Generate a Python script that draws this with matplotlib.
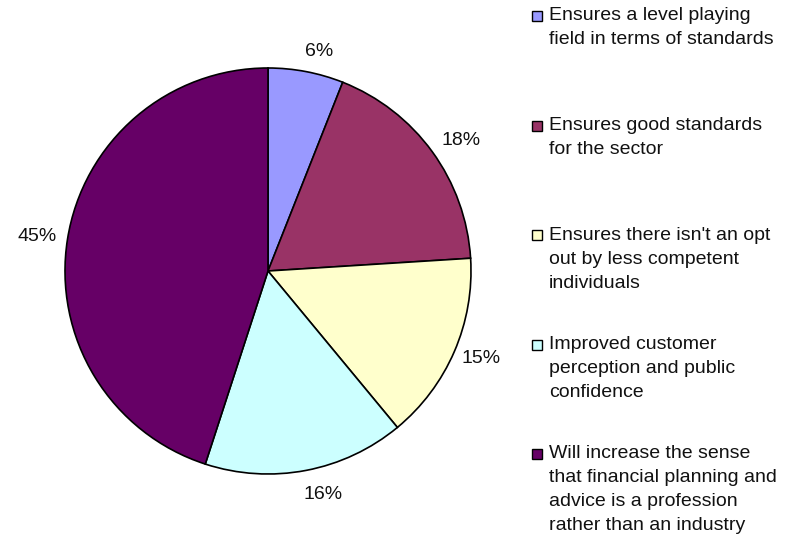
import matplotlib
matplotlib.use("Agg")
import numpy as np
import matplotlib.pyplot as plt
from matplotlib.patches import Rectangle

plt.rcParams['font.family'] = ['Liberation Sans', 'DejaVu Sans']

categories = [
    ["Ensures a level playing", "field in terms of standards"],
    ["Ensures good standards", "for the sector"],
    ["Ensures there isn't an opt", "out by less competent", "individuals"],
    ["Improved customer", "perception and public", "confidence"],
    ["Will increase the sense", "that financial planning and", "advice is a profession", "rather than an industry"],
]
values = [6, 18, 15, 16, 45]
colors = ["#9999FF", "#993366", "#FFFFCC", "#CCFFFF", "#660066"]

# label placement tweaks (angle shift in degrees, distance in radii)
label_shift = [-2.2, -2.0, 1.0, 3.0, 0.6]
label_dist = [1.11, 1.15, 1.135, 1.135, 1.15]

W, H = 790, 537
fig = plt.figure(figsize=(W / 100, H / 100), dpi=100)

# pie axes: centre (268, 271) px, radius 203 px
cx, cy, r = 268, 271, 203
ax = fig.add_axes([(cx - r) / W, (H - cy - r) / H, 2 * r / W, 2 * r / H])
wedges, texts = ax.pie(
    values, colors=colors, startangle=90, counterclock=False,
    labels=[f"{v}%" for v in values], labeldistance=1.14,
    wedgeprops=dict(edgecolor="black", linewidth=1.2),
    textprops=dict(fontsize=14, color="#111111"),
    radius=1.0,
)
for w, t, dth, dist in zip(wedges, texts, label_shift, label_dist):
    mid = np.deg2rad((w.theta1 + w.theta2) / 2 + dth)
    t.set_position((dist * np.cos(mid), dist * np.sin(mid)))
    t.set_ha("center")
    t.set_va("center")
ax.set_xlim(-1, 1)
ax.set_ylim(-1, 1)
ax.set_aspect("equal")
ax.axis("off")

# legend drawn on the right
first_y = 16
step = 109.5
line_h = 24
box = 10
for i, (lines, col) in enumerate(zip(categories, colors)):
    y0 = first_y + i * step
    fig.patches.append(Rectangle((532 / W, (H - y0 - box / 2) / H), box / W, box / H,
                                 transform=fig.transFigure, facecolor=col,
                                 edgecolor="black", linewidth=1.0))
    for j, line in enumerate(lines):
        fig.text(549 / W, (H - (y0 + j * line_h)) / H, line, fontsize=14,
                 color="#111111", ha="left", va="center")

fig.savefig("out.png", dpi=100)
